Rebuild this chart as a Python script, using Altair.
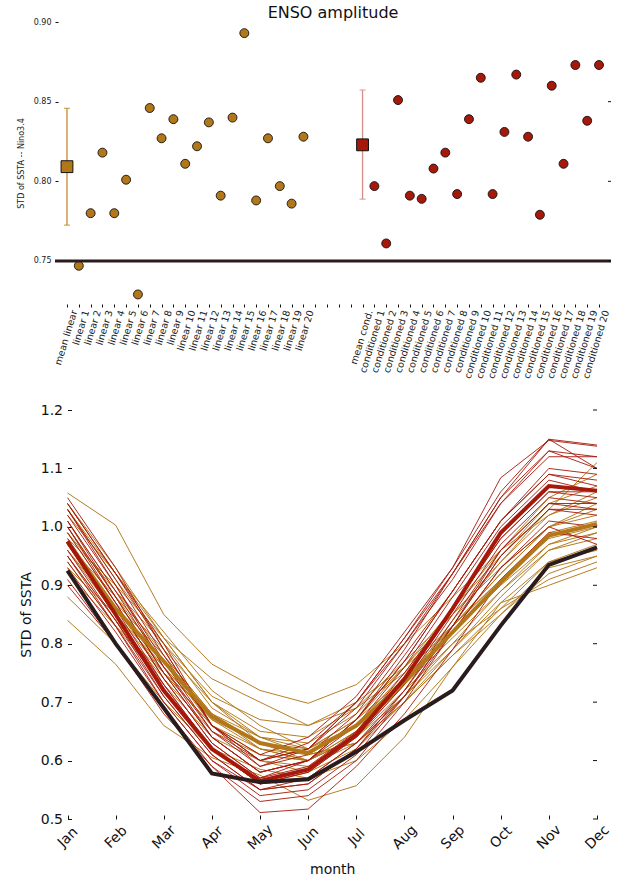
import altair as alt
import pandas as pd

# ---------------- data: top panel (annual ENSO amplitude) ----------------
lin_names = [f"linear {i}" for i in range(1, 21)]
cond_names = [f"conditioned {i}" for i in range(1, 21)]
gap_names = [" ", "  ", "   ", "    "]
categories = ["mean linear"] + lin_names + gap_names + ["mean cond."] + cond_names

lin_amp = [0.747, 0.780, 0.818, 0.780, 0.801, 0.729, 0.846, 0.827, 0.839, 0.811,
           0.822, 0.837, 0.791, 0.840, 0.893, 0.788, 0.827, 0.797, 0.786, 0.828]
cond_amp = [0.797, 0.761, 0.851, 0.791, 0.789, 0.808, 0.818, 0.792, 0.839, 0.865,
            0.792, 0.831, 0.867, 0.828, 0.779, 0.860, 0.811, 0.873, 0.838, 0.873]
mean_lin = [0.8092, 0.7725, 0.8458]   # mean, low, high
mean_cond = [0.8229, 0.7888, 0.8573]
obs_amp = 0.75
top_ticks = [0.75, 0.80, 0.85, 0.90]
right_top_ticks = [0.75, 0.80, 0.85]

# ---------------- data: bottom panel (seasonal cycle of STD) ----------------
months = ["Jan", "Feb", "Mar", "Apr", "May", "Jun",
          "Jul", "Aug", "Sep", "Oct", "Nov", "Dec"]
bot_ticks = [0.5, 0.6, 0.7, 0.8, 0.9, 1.0, 1.1, 1.2]

obs_month = [0.925, 0.800, 0.690, 0.578, 0.563, 0.568, 0.615, 0.669, 0.720, 0.831, 0.935, 0.965]
mean_lin_month = [0.975, 0.860, 0.770, 0.675, 0.630, 0.613, 0.660, 0.735, 0.820, 0.905, 0.985, 1.005]
mean_cond_month = [0.975, 0.850, 0.720, 0.620, 0.565, 0.585, 0.645, 0.740, 0.860, 0.990, 1.070, 1.062]

lin_month = [
    [0.88, 0.80, 0.70, 0.62, 0.585, 0.57, 0.60, 0.67, 0.76, 0.85, 0.93, 0.95],
    [0.94, 0.83, 0.73, 0.64, 0.60, 0.58, 0.62, 0.70, 0.79, 0.88, 0.96, 0.98],
    [0.99, 0.87, 0.78, 0.68, 0.64, 0.61, 0.66, 0.74, 0.83, 0.92, 1.00, 1.03],
    [0.95, 0.84, 0.74, 0.65, 0.61, 0.60, 0.64, 0.71, 0.79, 0.87, 0.94, 0.97],
    [1.00, 0.88, 0.77, 0.66, 0.62, 0.60, 0.64, 0.72, 0.80, 0.89, 0.96, 0.99],
    [0.84, 0.765, 0.66, 0.605, 0.575, 0.532, 0.557, 0.64, 0.76, 0.87, 0.90, 0.93],
    [1.02, 0.92, 0.82, 0.72, 0.66, 0.62, 0.67, 0.76, 0.86, 0.95, 1.04, 1.07],
    [0.97, 0.88, 0.79, 0.70, 0.65, 0.64, 0.69, 0.77, 0.85, 0.93, 1.00, 1.02],
    [1.03, 0.91, 0.80, 0.69, 0.64, 0.63, 0.68, 0.76, 0.85, 0.94, 1.02, 1.06],
    [0.96, 0.86, 0.76, 0.67, 0.63, 0.62, 0.67, 0.74, 0.82, 0.90, 0.97, 1.00],
    [1.01, 0.89, 0.78, 0.68, 0.62, 0.60, 0.65, 0.73, 0.83, 0.92, 1.00, 1.04],
    [0.98, 0.90, 0.81, 0.74, 0.70, 0.66, 0.69, 0.75, 0.83, 0.91, 0.99, 1.01],
    [0.93, 0.85, 0.76, 0.67, 0.62, 0.61, 0.63, 0.70, 0.78, 0.86, 0.94, 0.96],
    [1.03, 0.92, 0.81, 0.70, 0.64, 0.62, 0.66, 0.75, 0.86, 0.96, 1.05, 1.09],
    [1.058, 1.003, 0.85, 0.765, 0.72, 0.698, 0.73, 0.80, 0.88, 0.96, 1.02, 1.05],
    [0.97, 0.86, 0.75, 0.66, 0.60, 0.59, 0.63, 0.71, 0.80, 0.86, 0.91, 0.94],
    [0.99, 0.89, 0.80, 0.71, 0.67, 0.66, 0.70, 0.76, 0.83, 0.91, 0.98, 1.00],
    [0.96, 0.85, 0.75, 0.66, 0.61, 0.60, 0.65, 0.73, 0.81, 0.89, 0.97, 0.99],
    [0.92, 0.83, 0.75, 0.68, 0.63, 0.61, 0.63, 0.70, 0.78, 0.85, 0.92, 0.95],
    [1.04, 0.93, 0.81, 0.70, 0.63, 0.60, 0.64, 0.73, 0.84, 0.94, 1.03, 1.11],
]
cond_month = [
    [0.95, 0.83, 0.70, 0.60, 0.55, 0.57, 0.63, 0.72, 0.84, 0.96, 1.04, 1.03],
    [0.91, 0.80, 0.68, 0.59, 0.511, 0.517, 0.59, 0.68, 0.79, 0.91, 0.99, 0.98],
    [1.02, 0.90, 0.76, 0.65, 0.59, 0.61, 0.68, 0.79, 0.92, 1.05, 1.13, 1.10],
    [0.96, 0.84, 0.71, 0.61, 0.55, 0.56, 0.62, 0.71, 0.83, 0.95, 1.03, 1.02],
    [0.93, 0.82, 0.70, 0.60, 0.54, 0.55, 0.61, 0.71, 0.83, 0.96, 1.04, 1.04],
    [0.98, 0.86, 0.73, 0.62, 0.56, 0.58, 0.64, 0.73, 0.85, 0.97, 1.05, 1.04],
    [0.99, 0.87, 0.74, 0.63, 0.57, 0.59, 0.65, 0.75, 0.86, 0.98, 1.06, 1.05],
    [0.94, 0.83, 0.71, 0.61, 0.55, 0.56, 0.62, 0.72, 0.83, 0.95, 1.03, 1.03],
    [1.01, 0.88, 0.75, 0.64, 0.58, 0.60, 0.67, 0.77, 0.89, 1.01, 1.09, 1.07],
    [1.03, 0.91, 0.78, 0.66, 0.60, 0.62, 0.70, 0.80, 0.92, 1.04, 1.12, 1.12],
    [0.95, 0.84, 0.72, 0.62, 0.56, 0.57, 0.63, 0.71, 0.82, 0.93, 1.01, 1.00],
    [1.00, 0.88, 0.75, 0.64, 0.58, 0.60, 0.66, 0.76, 0.88, 1.00, 1.08, 1.06],
    [1.05, 0.93, 0.79, 0.66, 0.59, 0.62, 0.70, 0.81, 0.93, 1.06, 1.15, 1.10],
    [1.00, 0.87, 0.74, 0.63, 0.57, 0.60, 0.67, 0.77, 0.89, 1.01, 1.09, 1.08],
    [0.90, 0.80, 0.69, 0.59, 0.53, 0.54, 0.60, 0.70, 0.82, 0.93, 1.00, 0.97],
    [1.03, 0.90, 0.77, 0.65, 0.60, 0.62, 0.69, 0.80, 0.91, 1.04, 1.13, 1.12],
    [0.97, 0.85, 0.73, 0.62, 0.56, 0.58, 0.64, 0.74, 0.86, 0.98, 1.06, 1.06],
    [1.04, 0.92, 0.80, 0.66, 0.61, 0.64, 0.71, 0.82, 0.93, 1.084, 1.148, 1.138],
    [1.01, 0.89, 0.76, 0.64, 0.58, 0.60, 0.67, 0.78, 0.89, 1.01, 1.10, 1.09],
    [1.04, 0.92, 0.79, 0.66, 0.60, 0.63, 0.70, 0.81, 0.92, 1.05, 1.15, 1.14],
]

# ---------------- colours ----------------
C_LIN = "#b27719"
C_COND = "#a5180a"
C_OBS = "#2a1c1c"
C_LIN_ERR = "#c58a2e"
C_COND_ERR = "#d48d88"
FONT = "DejaVu Sans"

# ---------------- tables ----------------
pts = pd.DataFrame({
    "cat": lin_names + cond_names,
    "val": lin_amp + cond_amp,
    "grp": ["linear"] * 20 + ["cond"] * 20,
})
means = pd.DataFrame({
    "cat": ["mean linear", "mean cond."],
    "val": [mean_lin[0], mean_cond[0]],
    "lo": [mean_lin[1], mean_cond[1]],
    "hi": [mean_lin[2], mean_cond[2]],
    "grp": ["linear", "cond"],
})
obs_df = pd.DataFrame({"val": [obs_amp]})
rtick_top = pd.DataFrame({"val": right_top_ticks})

grp_dom = ["linear", "cond"]
err_color = alt.Color("grp:N", scale=alt.Scale(domain=grp_dom, range=[C_LIN_ERR, C_COND_ERR]), legend=None)
pt_fill = alt.Fill("grp:N", scale=alt.Scale(domain=grp_dom, range=[C_LIN, C_COND]), legend=None)

TOP_W, TOP_H = 550, 282
ydom_top = [0.723, 0.90]
yscale_top = alt.Scale(domain=ydom_top, nice=False, zero=False)

xs_top = alt.X("cat:N", sort=categories,
               scale=alt.Scale(type="point", domain=categories, padding=0.76),
               axis=alt.Axis(title=None, labelAngle=287, labelAlign="right", labelBaseline="middle",
                             labelFontSize=9.5, labelColor="#222", labelPadding=3, labelOffset=7,
                             tickSize=3, tickColor="#111", domain=False, labelOverlap=False))
ys_top = alt.Y("val:Q", scale=yscale_top,
               axis=alt.Axis(title="STD of SSTA -- Nino3.4", titleFontSize=8, titleFontWeight="normal",
                             titleColor="#222", titlePadding=8,
                             values=top_ticks, format=".2f", labelFontSize=8,
                             labelColor="#222", tickSize=3, tickColor="#111", domain=False,
                             labelPadding=4))

member_pts = alt.Chart(pts).mark_circle(size=80, stroke="#111", strokeWidth=0.9, opacity=1).encode(
    x=xs_top, y=ys_top, fill=pt_fill)
obs_rule = alt.Chart(obs_df).mark_rule(color=C_OBS, strokeWidth=3.2).encode(
    y=alt.Y("val:Q", scale=yscale_top),
    x=alt.value(-3), x2=alt.value(TOP_W + 3),
)
right_ticks_top = alt.Chart(rtick_top).mark_rule(color="#111", strokeWidth=1).encode(
    y=alt.Y("val:Q", scale=yscale_top),
    x=alt.value(TOP_W), x2=alt.value(TOP_W + 3),
)
err_rule = alt.Chart(means).mark_rule(strokeWidth=1.3).encode(
    x=xs_top, y=alt.Y("lo:Q", scale=yscale_top), y2="hi:Q", color=err_color)
cap_lo = alt.Chart(means).mark_tick(orient="horizontal", size=6, thickness=1.3).encode(
    x=xs_top, y=alt.Y("lo:Q", scale=yscale_top), color=err_color)
cap_hi = alt.Chart(means).mark_tick(orient="horizontal", size=6, thickness=1.3).encode(
    x=xs_top, y=alt.Y("hi:Q", scale=yscale_top), color=err_color)
mean_sq = alt.Chart(means).mark_square(size=140, stroke="#111", strokeWidth=1, opacity=1).encode(
    x=xs_top, y=ys_top, fill=pt_fill)

top = alt.layer(
    member_pts, obs_rule, right_ticks_top, err_rule, cap_lo, cap_hi, mean_sq
).properties(
    width=TOP_W, height=TOP_H,
    title=alt.TitleParams("ENSO amplitude", fontSize=16, fontWeight="normal", font=FONT,
                          color="#111", offset=-3, anchor="middle"),
)

# ---------------- bottom panel ----------------
rows = []
for i, s in enumerate(lin_month):
    for m, v in zip(months, s):
        rows.append({"month": m, "val": v, "series": f"lin{i+1}", "grp": "linear"})
for i, s in enumerate(cond_month):
    for m, v in zip(months, s):
        rows.append({"month": m, "val": v, "series": f"cond{i+1}", "grp": "cond"})
thin = pd.DataFrame(rows)
thick_rows = []
for name, s in [("mean_lin", mean_lin_month), ("mean_cond", mean_cond_month), ("obs", obs_month)]:
    for m, v in zip(months, s):
        thick_rows.append({"month": m, "val": v, "series": name})
thick = pd.DataFrame(thick_rows)
rtick_bot = pd.DataFrame({"val": bot_ticks})

BOT_W, BOT_H = 550, 409
x_range = [9.5, 539]
ydom_bot = [0.5, 1.2]
yscale_bot = alt.Scale(domain=ydom_bot, nice=False, zero=False)

xs_bot = alt.X("month:N", sort=months,
               scale=alt.Scale(type="point", domain=months, range=x_range, padding=0),
               axis=alt.Axis(title="month", titleFontSize=14, titleFontWeight="normal", titleColor="#111",
                             titlePadding=10, labelAngle=315, labelAlign="center", labelBaseline="middle",
                             labelFontSize=14, labelColor="#111", labelPadding=18, offset=-4,
                             tickSize=4, tickColor="#111", domain=False))
ys_bot = alt.Y("val:Q", scale=yscale_bot,
               axis=alt.Axis(title="STD of SSTA", titleFontSize=14, titleFontWeight="normal",
                             titleColor="#111", titlePadding=7,
                             values=bot_ticks, format=".1f",
                             labelFontSize=14, labelColor="#111", tickSize=4, tickColor="#111",
                             offset=-13.5, labelPadding=5, domain=False))

lin_lines = alt.Chart(thin[thin.grp == "linear"]).mark_line(strokeWidth=1, color=C_LIN, opacity=0.95).encode(
    x=xs_bot, y=ys_bot, detail="series:N")
cond_lines = alt.Chart(thin[thin.grp == "cond"]).mark_line(strokeWidth=1, color=C_COND, opacity=0.9).encode(
    x=xs_bot, y=ys_bot, detail="series:N")
ml_line = alt.Chart(thick[thick.series == "mean_lin"]).mark_line(strokeWidth=4, color=C_LIN).encode(
    x=xs_bot, y=ys_bot)
mc_line = alt.Chart(thick[thick.series == "mean_cond"]).mark_line(strokeWidth=4, color=C_COND).encode(
    x=xs_bot, y=ys_bot)
obs_line = alt.Chart(thick[thick.series == "obs"]).mark_line(strokeWidth=4, color=C_OBS).encode(
    x=xs_bot, y=ys_bot)
right_ticks_bot = alt.Chart(rtick_bot).mark_rule(color="#111", strokeWidth=1).encode(
    y=alt.Y("val:Q", scale=yscale_bot),
    x=alt.value(x_range[1] - 4), x2=alt.value(x_range[1]),
)

bottom = alt.layer(
    lin_lines, cond_lines, ml_line, mc_line, obs_line, right_ticks_bot
).properties(width=BOT_W, height=BOT_H)

chart = alt.vconcat(top, bottom, spacing=23).properties(
    padding={"left": 17, "top": 5, "right": 2, "bottom": 2},
).configure(font=FONT).configure_view(stroke=None).configure_axis(grid=False)

chart.save("out.html", embed_options={"renderer": "svg", "actions": False})
